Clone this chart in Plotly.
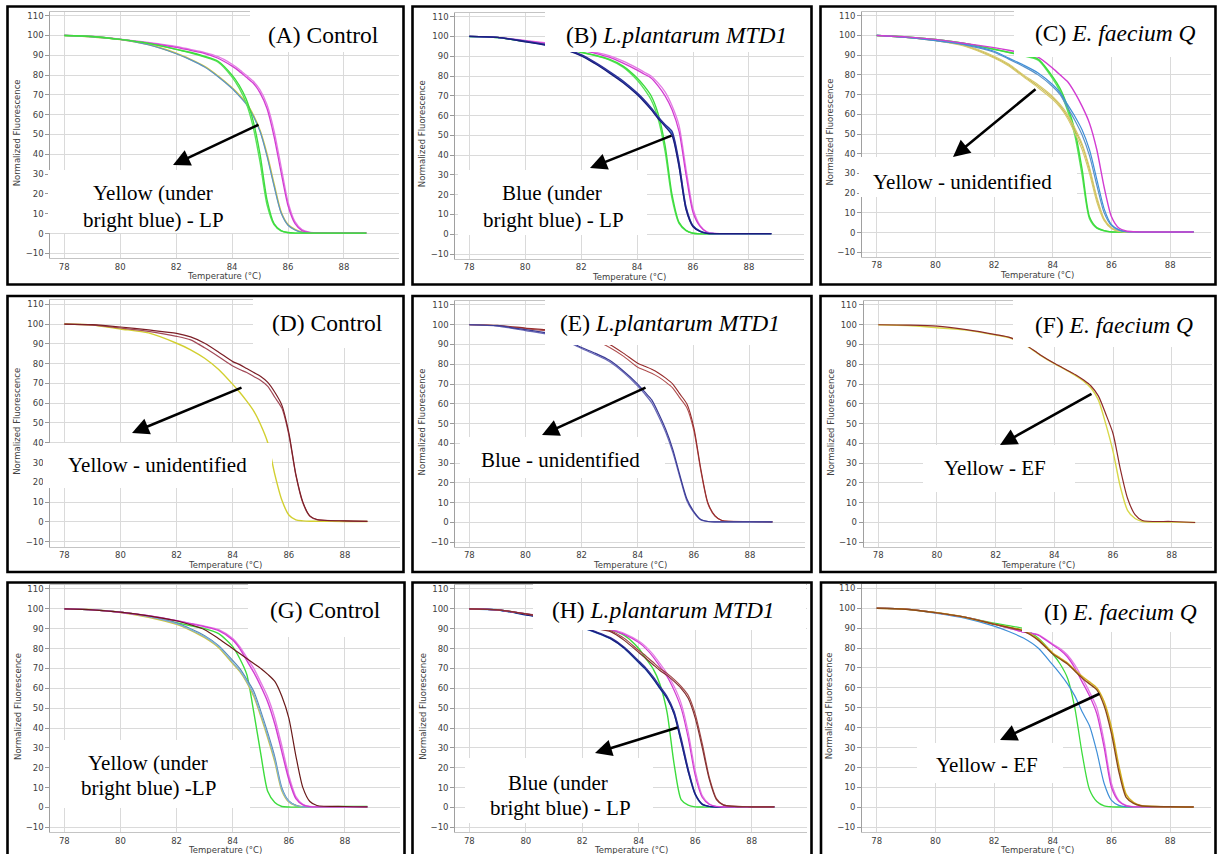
import plotly.graph_objects as go

# Melt-curve temperature grid (deg C)
TEMP = [78, 79, 80, 81, 82, 82.5, 83, 83.5, 84, 84.25, 84.5, 84.75,
        85, 85.25, 85.5, 85.75, 86, 86.25, 86.5, 86.75, 87, 88, 88.8]

# (A) Control
A_GREEN_1 = [100, 99.5, 98, 96, 93, 91.5, 89.5, 87, 80, 75, 68, 57, 40, 17, 5, 1.5, 0.5, 0.2, 0.2, 0.2, 0.2, 0.2, 0.2]
A_GREEN_2 = [100, 99.5, 98, 96, 93, 91.3, 89.2, 86.5, 79, 73.5, 66, 54, 36, 14.5, 4.5, 1.3, 0.4, 0.2, 0.2, 0.2, 0.2, 0.2, 0.2]
A_MAGENTA_1 = [100, 99.5, 98, 96.2, 94, 92.5, 91, 88.5, 84.5, 82, 79, 76, 71, 63, 49, 31, 14, 5, 1.5, 0.6, 0.4, 0.3, 0.3]
A_MAGENTA_2 = [100, 99.5, 98.2, 96.5, 94.5, 93, 91.5, 89.3, 85.5, 83, 80, 77, 72.5, 65, 52, 34, 16, 6, 2, 0.7, 0.4, 0.3, 0.3]
A_YELLOW = [100, 99.3, 98, 95.5, 91, 88, 84.5, 79.5, 73.5, 70, 66, 60, 52, 40, 25, 11, 4.5, 2, 0.7, 0.3, 0.2, 0.2, 0.2]
A_BLUE = [100, 99.3, 98, 95.3, 90.8, 87.8, 84.2, 79.2, 73.2, 69.5, 65.5, 59.5, 51.5, 39, 24, 10.5, 4.2, 1.8, 0.6, 0.3, 0.2, 0.2, 0.2]

# (B) L.plantarum MTD1
B_GREEN_1 = [100, 99.5, 97.5, 95.5, 92, 90.5, 88.5, 85, 79, 75, 70, 61, 45, 20, 6, 2, 0.5, 0.2, 0.2, 0.2, 0.2, 0.2, 0.2]
B_GREEN_2 = [100, 99.5, 97.5, 95.5, 92, 90.3, 88.2, 84.5, 78, 73.5, 68, 58.5, 42, 18, 5.5, 1.8, 0.5, 0.2, 0.2, 0.2, 0.2, 0.2, 0.2]
B_MAGENTA_1 = [100, 99.5, 97.8, 96, 93, 91.5, 89.5, 86.5, 83, 81, 79, 75, 70, 63, 52, 30, 11, 4, 1, 0.4, 0.3, 0.3, 0.3]
B_MAGENTA_2 = [100, 99.5, 98, 96.3, 93.5, 92, 90.3, 87.5, 84, 82, 80, 76.5, 72, 65, 55, 33, 13, 4.5, 1.2, 0.5, 0.3, 0.3, 0.3]
B_BRIGHT = [100, 99.5, 97.5, 95, 90.5, 86.5, 82, 77, 71, 67.5, 63.5, 59, 55, 51, 35, 13, 4, 1.5, 0.5, 0.3, 0.3, 0.3, 0.3]
B_NAVY_1 = [100, 99.5, 97.3, 94.8, 90.2, 86.2, 81.6, 76.6, 70.6, 67, 63, 58.5, 54.5, 50, 34, 12.5, 3.8, 1.4, 0.5, 0.3, 0.3, 0.3, 0.3]
B_NAVY_2 = [100, 99.5, 97.6, 95.2, 90.8, 86.9, 82.4, 77.5, 71.5, 68, 64, 59.5, 55.5, 52, 36.5, 14, 4.3, 1.6, 0.5, 0.3, 0.3, 0.3, 0.3]

# (C) E. faecium Q
C_GREEN_1 = [100, 99.3, 98, 96, 93, 91.5, 90, 88, 79, 73, 64, 52, 32, 8, 2.5, 1, 0.3, 0.2, 0.2, 0.2, 0.2, 0.2, 0.2]
C_GREEN_2 = [100, 99.3, 98, 96, 93, 91.3, 89.7, 87.5, 78, 71.5, 62, 49.5, 29, 7, 2.2, 0.9, 0.3, 0.2, 0.2, 0.2, 0.2, 0.2, 0.2]
C_YELLOW_1 = [100, 99, 97.5, 95, 89.5, 85.5, 80, 75, 69, 65, 60, 53, 45, 33, 18, 7, 2.5, 0.8, 0.3, 0.2, 0.2, 0.2, 0.2]
C_YELLOW_2 = [100, 99, 97.3, 94.5, 88.5, 84.5, 79, 73.5, 67.5, 63.5, 58, 50.5, 42, 30, 15.5, 6, 2, 0.6, 0.3, 0.2, 0.2, 0.2, 0.2]
C_YELLOW_3 = [100, 99, 97.4, 94.8, 89, 85, 79.5, 74.3, 68.3, 64.3, 59, 52, 44, 32, 17, 6.5, 2.2, 0.7, 0.3, 0.2, 0.2, 0.2, 0.2]
C_BLUE_1 = [100, 99, 97.5, 95.5, 92, 88.5, 85, 81, 75, 71, 65, 59, 52, 42, 27, 12, 4, 1.5, 0.5, 0.3, 0.2, 0.2, 0.3]
C_BLUE_2 = [100, 99, 97.3, 95.2, 91.5, 88, 84.3, 80, 74, 70, 63.5, 57, 49.5, 39, 24, 10, 3.5, 1.2, 0.4, 0.3, 0.2, 0.2, 0.3]
C_MAGENTA = [100, 99.3, 98, 96, 93.8, 92.5, 91, 89, 83.3, 80, 76.6, 71, 64, 55.5, 42, 23, 8, 2.3, 0.8, 0.4, 0.3, 0.3, 0.3]

# (D) Control
D_YELLOW = [100, 99.5, 97.5, 95.5, 90.3, 87, 82.7, 77, 69.5, 65.5, 61, 56, 49, 40, 24, 11, 3.5, 1, 0.5, 0.3, 0.3, 0.2, 0.2]
D_MAROON_1 = [100, 99.7, 98.5, 97, 95.3, 93.5, 90.3, 85.8, 81, 79.5, 77.5, 75.5, 73.5, 70.5, 65.5, 59, 45, 24, 10, 3, 1.2, 0.5, 0.3]
D_MAROON_2 = [100, 99.5, 98, 96.3, 93.8, 92, 88, 83.5, 78.8, 77, 75.5, 73.5, 71.5, 68.5, 63, 57.5, 44, 23.5, 9.5, 2.8, 1.1, 0.5, 0.3]

# (E) L.plantarum MTD1
E_BLUE_1 = [100, 99.5, 97.5, 95, 88.5, 85.5, 82, 76.5, 70, 66, 62, 55, 47, 37, 24, 12, 5.5, 1.5, 0.5, 0.3, 0.3, 0.3, 0.3]
E_BLUE_2 = [100, 99.3, 97, 94.5, 88, 84.8, 81.3, 75.8, 69, 65, 60.5, 53.5, 45.5, 35.5, 23, 11, 5, 1.3, 0.5, 0.3, 0.3, 0.3, 0.3]
E_MAROON_1 = [100, 99.7, 98.3, 97, 95, 93.3, 90, 85.5, 80.5, 79, 77.5, 75.5, 73, 70, 65, 60, 48, 27, 10, 3.5, 1, 0.5, 0.3]
E_MAROON_2 = [100, 99.5, 98, 96.5, 94, 92, 88.5, 84, 78.5, 77, 75.5, 73.5, 71, 68, 63, 58, 46.5, 26, 9.5, 3.2, 1, 0.5, 0.3]

# (F) E. faecium Q
F_MAROON = [100, 99.8, 99.3, 97.5, 95, 93.5, 90, 85, 80.5, 78.5, 76.5, 74.5, 72, 69, 64, 55, 45, 27, 12, 4, 1, 0.5, 0]
F_YELLOW = [100, 99.6, 98.5, 97.3, 94.8, 93.3, 89.8, 84.8, 80.3, 78.3, 76.3, 74, 71.5, 68, 62, 50, 36, 18, 6, 2, 0.5, 0.2, 0]

# (G) Control
G_YELLOW = [100, 99.5, 98.2, 95.8, 92.2, 89.2, 85.5, 80.5, 72.5, 68.5, 63, 56, 46, 35, 23, 8.5, 2.8, 1, 0.3, 0.3, 0.3, 0.3, 0.3]
G_BLUE_1 = [100, 99.5, 98.3, 96, 92.5, 89.5, 86, 81, 73, 69, 63.5, 57, 47, 36, 24, 9, 3, 1, 0.3, 0.3, 0.3, 0.3, 0.3]
G_BLUE_2 = [100, 99.5, 98.3, 96.2, 92.8, 90, 86.5, 81.5, 74, 70, 64.5, 58.5, 48.5, 37.5, 25.5, 10, 3.3, 1.1, 0.3, 0.3, 0.3, 0.3, 0.3]
G_GREEN = [100, 99.5, 98.3, 96.3, 93, 91.5, 90, 87.5, 81, 75, 67, 48, 27, 8, 2.5, 0.5, 0.2, 0.2, 0.2, 0.2, 0.2, 0.5, 0.5]
G_MAGENTA_1 = [100, 99.5, 98.3, 96.5, 94, 92.5, 91, 89, 84.3, 80, 74, 68, 61, 53, 42, 28, 14, 4.5, 1.3, 0.4, 0.3, 0.3, 0.3]
G_MAGENTA_2 = [100, 99.5, 98.3, 96.5, 94, 92.7, 91.3, 89.5, 85, 81, 75.5, 70, 63, 55.5, 45, 31, 16, 5.5, 1.6, 0.5, 0.3, 0.3, 0.3]
G_MAROON = [100, 99.5, 98.3, 96.5, 94, 92, 89.5, 85, 80, 77.5, 75, 72.5, 70, 67, 63.5, 56, 45, 26, 10, 3, 1, 0.5, 0.3]

# (H) L.plantarum MTD1
H_GREEN = [100, 99.5, 97.5, 95, 92, 91, 89.5, 86.5, 80, 75, 70, 62, 48, 22, 4, 1.2, 0.3, 0.2, 0.2, 0.2, 0.2, 0.2, 0.2]
H_BRIGHT = [100, 99.5, 97, 94.5, 90.5, 88, 85, 80, 73, 69.5, 65, 60, 55, 47.5, 33.5, 18.5, 6.5, 1.6, 0.5, 0.3, 0.3, 0.3, 0.3]
H_NAVY_1 = [100, 99.5, 97, 94.5, 90.5, 88, 85, 80, 73, 69.5, 65, 60, 55, 47, 33, 18, 6.5, 1.5, 0.5, 0.3, 0.3, 0.3, 0.3]
H_NAVY_2 = [100, 99.5, 97.2, 94.8, 90.8, 88.4, 85.5, 80.6, 73.8, 70.3, 66, 61, 56, 48.5, 35, 19.5, 7, 1.7, 0.5, 0.3, 0.3, 0.3, 0.3]
H_MAGENTA_1 = [100, 99.5, 97.5, 95.5, 93, 91.5, 89.5, 87, 83, 80, 76, 71, 66, 59, 50, 35, 16, 5, 1.5, 0.5, 0.3, 0.3, 0.3]
H_MAGENTA_2 = [100, 99.5, 97.6, 95.7, 93.3, 91.9, 90, 87.6, 83.8, 81, 77.2, 72.5, 67.5, 61, 52.5, 38, 18.5, 6, 1.8, 0.6, 0.3, 0.3, 0.3]
H_MAROON_1 = [100, 99.5, 97.5, 95, 91.5, 90, 88.5, 84, 78, 75, 72, 69, 66.5, 63.5, 60, 55, 45, 30, 14, 4, 1.2, 0.3, 0.3]
H_MAROON_2 = [100, 99.5, 97.5, 95, 91.8, 90.5, 89, 85, 79, 76.3, 73.2, 70, 67.5, 64.5, 61, 56.5, 47, 32, 15, 4.5, 1.3, 0.3, 0.3]

# (I) E. faecium Q
I_GREEN = [100, 99.5, 97.8, 95.5, 92.5, 91.2, 89.8, 85, 77, 72, 65, 50, 27, 9, 3, 0.8, 0.3, 0.2, 0.2, 0.2, 0.2, 0.2, 0.2]
I_BLUE = [100, 99.5, 97.5, 95, 91, 88.3, 85, 80, 71.5, 67, 62, 56, 48, 41, 28, 12, 3.5, 1, 0.3, 0.2, 0.2, 0.2, 0.2]
I_MAGENTA_1 = [100, 99.5, 97.8, 95.5, 92, 90, 88, 86.5, 81.5, 79, 75.5, 70, 63, 56, 47, 30, 10, 3, 0.8, 0.3, 0.3, 0.3, 0.3]
I_MAGENTA_2 = [100, 99.5, 97.8, 95.5, 92, 90, 88, 86.8, 82, 79.8, 76.5, 71.5, 65, 58, 50, 33, 12, 3.5, 1, 0.4, 0.3, 0.3, 0.3]
I_BROWN = [100, 99.5, 97.8, 95.5, 92, 90.3, 88.5, 84, 77, 74.5, 72, 68.5, 65, 62, 59, 51, 37, 18, 5, 2, 0.8, 0.3, 0.2]
I_YELLOW = [100, 99.5, 97.8, 95.5, 92, 90.5, 88.8, 84.5, 77.5, 75, 72.5, 69, 65.8, 63, 60, 53, 40, 21, 6.5, 2.5, 1, 0.3, 0.2]

X_TICKS = [78, 80, 82, 84, 86, 88]
Y_TICKS = [-10, 0, 10, 20, 30, 40, 50, 60, 70, 80, 90, 100, 110]

# ---------------------------------------------------------------- styling
FIG_W, FIG_H = 1220, 854
GREEN, GREEN2 = "#3ddc3d", "#5ae25a"
MAG, PINK = "#d23cd2", "#e47ae4"
NAVY, NAVY2 = "#1c1c7c", "#2e2e98"
BRIGHT = "#3f8fd8"
STEEL = "#5a92c8"
YEL = "#cfc640"
KHAKI, KHAKI2 = "#d6c86a", "#c8b850"
MAROON, MAROON2 = "#7c1f27", "#a24a58"
PURP, PURP2 = "#3c3c96", "#6a6ab8"
BROWN = "#8b4a1a"
GOLD = "#d4b020"

SERIES = {
    "A": [(A_YELLOW, YEL, 1.6), (A_BLUE, STEEL, 1.2), (A_MAGENTA_2, PINK, 1.3),
          (A_MAGENTA_1, MAG, 1.3), (A_GREEN_2, GREEN2, 1.4), (A_GREEN_1, GREEN, 1.4)],
    "B": [(B_GREEN_2, GREEN2, 1.4), (B_GREEN_1, GREEN, 1.4), (B_MAGENTA_2, PINK, 1.3),
          (B_MAGENTA_1, MAG, 1.3), (B_BRIGHT, BRIGHT, 1.6), (B_NAVY_2, NAVY2, 1.3),
          (B_NAVY_1, NAVY, 1.3)],
    "C": [(C_GREEN_2, GREEN2, 1.4), (C_GREEN_1, GREEN, 1.4), (C_YELLOW_3, KHAKI2, 1.1),
          (C_YELLOW_2, KHAKI, 1.1), (C_YELLOW_1, KHAKI, 1.1), (C_BLUE_2, STEEL, 1.2),
          (C_BLUE_1, BRIGHT, 1.2), (C_MAGENTA, MAG, 1.4)],
    "D": [(D_YELLOW, "#d2cf30", 1.4), (D_MAROON_2, MAROON2, 1.2), (D_MAROON_1, MAROON, 1.2)],
    "E": [(E_MAROON_2, "#b05050", 1.1), (E_MAROON_1, "#962c2c", 1.1),
          (E_BLUE_2, PURP2, 1.2), (E_BLUE_1, PURP, 1.2)],
    "F": [(F_YELLOW, "#d8d84a", 1.4), (F_MAROON, "#8c2a2a", 1.2)],
    "G": [(G_GREEN, GREEN, 1.4), (G_YELLOW, YEL, 1.5), (G_BLUE_2, "#5a8ab5", 1.2),
          (G_BLUE_1, "#7fb0d8", 1.2), (G_MAGENTA_2, PINK, 1.4), (G_MAGENTA_1, MAG, 1.4),
          (G_MAROON, "#6a1a1a", 1.2)],
    "H": [(H_GREEN, GREEN, 1.4), (H_BRIGHT, BRIGHT, 1.6), (H_NAVY_2, NAVY2, 1.2),
          (H_NAVY_1, NAVY, 1.2), (H_MAGENTA_2, PINK, 1.2), (H_MAGENTA_1, MAG, 1.2),
          (H_MAROON_2, "#a04848", 1.2), (H_MAROON_1, "#843030", 1.2)],
    "I": [(I_GREEN, GREEN, 1.3), (I_BLUE, BRIGHT, 1.2), (I_MAGENTA_2, PINK, 1.3),
          (I_MAGENTA_1, MAG, 1.3), (I_YELLOW, GOLD, 1.5), (I_BROWN, BROWN, 1.4)],
}

# plot-area edges in pixels (left, right, top, bottom) and upper x limit
PANEL_BOX = {
    "A": (50.3, 398.5, 11.7, 258.3, 89.95),
    "B": (455.3, 803.5, 12.7, 259.0, 89.95),
    "C": (862.0, 1211.0, 11.8, 257.2, 89.39),
    "D": (50.3, 399.7, 300.3, 546.6, 89.95),
    "E": (455.3, 804.7, 301.0, 547.2, 89.95),
    "F": (863.6, 1211.6, 301.0, 547.2, 89.36),
    "G": (50.3, 399.7, 585.0, 832.3, 89.95),
    "H": (455.2, 806.8, 585.0, 832.3, 89.95),
    "I": (862.0, 1211.0, 584.3, 832.3, 89.39),
}
Y_RANGE = [-12.5, 112]

FRAMES = [(7.5, 403.5, 6.5, 284.5), (412.5, 811.5, 6.5, 284.5), (820.5, 1215.5, 6.5, 284.5),
          (7.5, 403.5, 296, 572), (412.5, 811.5, 296, 572), (820.5, 1215.5, 296, 572),
          (7.5, 404.5, 582.5, 870), (412.5, 811.5, 582.5, 870), (821, 1215.5, 582.5, 870)]

WHITE_BOXES = [
    (250, 399, 8.5, 52), (48, 260, 170, 233),
    (545, 806, 8.5, 52), (458, 647, 170, 235),
    (1014, 1212, 8.5, 57), (859, 1077, 157, 197),
    (253, 400, 298, 348), (43, 272, 443, 488),
    (545, 806, 298, 345), (460, 665, 437, 478),
    (1013, 1212, 298, 347), (923, 1075, 445, 492),
    (248, 400, 584, 637), (50, 250, 740, 808),
    (533, 806, 584, 630), (465, 653, 758, 823),
    (1022, 1212, 584, 632), (917, 1063, 743, 783),
]

TITLES = [
    ("(A) Control", 324, 35), ("(B) <i>L.plantarum MTD1</i>", 676, 35),
    ("(C) <i>E. faecium Q</i>", 1115, 33), ("(D) Control", 327, 323),
    ("(E) <i>L.plantarum MTD1</i>", 670, 323), ("(F) <i>E. faecium Q</i>", 1114, 325),
    ("(G) Control", 325, 610), ("(H) <i>L.plantarum MTD1</i>", 663, 610),
    ("(I) <i>E. faecium Q</i>", 1120, 612),
]

NOTES = [
    ("Yellow (under", 153, 193), ("bright blue) - LP", 153, 220),
    ("Blue (under", 552, 193), ("bright blue) - LP", 553, 220),
    ("Yellow - unidentified", 962, 182),
    ("Yellow - unidentified", 157, 465),
    ("Blue - unidentified", 560, 460),
    ("Yellow - EF", 995, 468),
    ("Yellow (under", 148, 763), ("bright blue) -LP", 148, 788),
    ("Blue (under", 558, 783), ("bright blue) - LP", 560, 808),
    ("Yellow - EF", 987, 765),
]

# arrows: tail (x, y) -> head (x, y)
ARROWS = [(260, 124, 173, 165), (673, 135, 590, 168), (1037, 88, 953, 157),
          (243, 387, 132, 433), (647, 387, 542, 435), (1093, 393, 1000, 445),
          (679, 727, 595, 753), (1101, 693, 1000, 740)]


def fx(px):
    return px / FIG_W


def fy(py):
    return 1 - py / FIG_H


TICK_FONT = dict(family="DejaVu Sans", size=8.5, color="#404040")
AXIS_FONT = dict(family="DejaVu Sans", size=8.5, color="#404040")
SERIF = "Liberation Serif, Times New Roman, serif"

fig = go.Figure()
layout = dict(width=FIG_W, height=FIG_H, margin=dict(l=0, r=0, t=0, b=0),
              paper_bgcolor="white", plot_bgcolor="white", showlegend=False)
annotations = []
shapes = []

for i, key in enumerate("ABCDEFGHI", start=1):
    sfx = "" if i == 1 else str(i)
    left, right, top, bottom, xmax = PANEL_BOX[key]
    layout["xaxis" + sfx] = dict(
        domain=[fx(left), fx(right)], range=[77.5, xmax], anchor="y" + sfx,
        tickvals=X_TICKS, ticks="", tickfont=TICK_FONT, showgrid=True,
        gridcolor="#dadada", gridwidth=1, zeroline=False, showline=True,
        linecolor="#c4c4c4", linewidth=1, mirror=True, fixedrange=True)
    layout["yaxis" + sfx] = dict(
        domain=[fy(bottom), fy(top)], range=Y_RANGE, anchor="x" + sfx,
        tickvals=Y_TICKS, ticks="outside", ticklen=4, tickcolor="#9a9a9a",
        tickfont=TICK_FONT, showgrid=True, gridcolor="#dadada", gridwidth=1,
        zeroline=False, showline=True, linecolor="#a0a0a0", linewidth=1,
        mirror=False, fixedrange=True)
    for ys, color, width in SERIES[key]:
        fig.add_trace(go.Scatter(
            x=TEMP, y=ys, mode="lines", xaxis="x" + sfx, yaxis="y" + sfx,
            line=dict(color=color, width=width, shape="spline", smoothing=0.7),
            hoverinfo="skip"))
    annotations.append(dict(
        text="Normalized Fluorescence", x=fx(left - 33), y=fy((top + bottom) / 2 - 2),
        xref="paper", yref="paper", showarrow=False, textangle=-90, font=AXIS_FONT,
        xanchor="center", yanchor="middle"))
    annotations.append(dict(
        text="Temperature (°C)", x=fx((left + right) / 2), y=fy(bottom + 18),
        xref="paper", yref="paper", showarrow=False, font=AXIS_FONT,
        xanchor="center", yanchor="middle"))

for x0, x1, y0, y1 in WHITE_BOXES:
    shapes.append(dict(type="rect", xref="paper", yref="paper", layer="above",
                       x0=fx(x0), x1=fx(x1), y0=fy(y1), y1=fy(y0),
                       fillcolor="white", line=dict(width=0)))

for x0, x1, y0, y1 in FRAMES:
    shapes.append(dict(type="rect", xref="paper", yref="paper", layer="above",
                       x0=fx(x0), x1=fx(x1), y0=fy(y1), y1=fy(y0),
                       fillcolor="rgba(0,0,0,0)", line=dict(color="black", width=2.6)))

for text, cx, cy in TITLES:
    annotations.append(dict(text=text, x=fx(cx), y=fy(cy), xref="paper", yref="paper",
                            showarrow=False, xanchor="center", yanchor="middle",
                            font=dict(family=SERIF, size=23.5, color="black")))

for text, cx, cy in NOTES:
    annotations.append(dict(text=text, x=fx(cx), y=fy(cy), xref="paper", yref="paper",
                            showarrow=False, xanchor="center", yanchor="middle",
                            font=dict(family=SERIF, size=21, color="black")))

for tx, ty, hx, hy in ARROWS:
    annotations.append(dict(text="", x=fx(hx), y=fy(hy), xref="paper", yref="paper",
                            ax=tx - hx, ay=ty - hy, showarrow=True, arrowhead=2,
                            arrowsize=1.3, arrowwidth=2.6, arrowcolor="black",
                            standoff=0, startstandoff=0))

layout["annotations"] = annotations
layout["shapes"] = shapes
fig.update_layout(**layout)
fig.write_html("out.html")
